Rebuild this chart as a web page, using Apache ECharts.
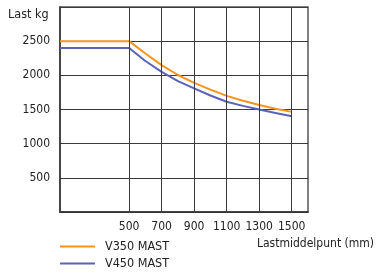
<!DOCTYPE html>
<html><head><meta charset="utf-8">
<script src="https://cdn.jsdelivr.net/npm/echarts@6/dist/echarts.min.js"></script>
<style>html,body{margin:0;padding:0;background:#fff}#c{width:377px;height:273px}</style>
</head><body><div id="c"></div>
<script>
const loadCenters = [500, 600, 700, 800, 900, 1000, 1100, 1200, 1300, 1400, 1500];
const v350 = [2500, 2320, 2150, 2005, 1890, 1790, 1700, 1628, 1565, 1512, 1465];
const v450 = [2400, 2210, 2050, 1915, 1808, 1705, 1614, 1553, 1500, 1450, 1400];
const xStart = 75, xEnd = 1600;
const xTicks = [500, 700, 900, 1100, 1300, 1500];
const yTicks = [500, 1000, 1500, 2000, 2500];
const seriesNames = ['V350 MAST', 'V450 MAST'];

const font = "'Liberation Sans Narrow', 'DejaVu Sans Condensed', 'Roboto Condensed', sans-serif";
const gridColor = '#3a3a3a';

function withFlat(values) {
  const pts = [[xStart, values[0]]];
  loadCenters.forEach((x, i) => pts.push([x, values[i]]));
  return pts;
}

function legendFor(name, top) {
  return {
    orient: 'vertical', left: 60, top: top, padding: 0,
    icon: 'rect', itemWidth: 35, itemHeight: 2,
    textStyle: {fontSize: 12.5, color: '#222', fontFamily: font, padding: [0, 0, 0, 5]},
    data: [name]
  };
}

const chart = echarts.init(document.getElementById('c'), null, {renderer: 'canvas'});
chart.setOption({
  animation: false,
  textStyle: {fontFamily: font},
  grid: {left: 60, top: 7, right: 69, bottom: 61, show: true, borderColor: '#555', borderWidth: 1.5},
  xAxis: {
    type: 'value', min: xStart, max: xEnd,
    axisLine: {show: true, lineStyle: {color: '#333', width: 1.5}},
    axisTick: {show: false},
    splitLine: {show: false},
    axisLabel: {customValues: xTicks, color: '#222', fontSize: 12, fontFamily: font, margin: 9,
      formatter: v => String(v)}
  },
  yAxis: {
    type: 'value', min: 0, max: 3000, interval: 500,
    axisLine: {show: true, lineStyle: {color: '#333', width: 1.5}},
    axisTick: {show: false},
    splitLine: {show: true, lineStyle: {color: gridColor, width: 1}},
    axisLabel: {color: '#222', fontSize: 12, fontFamily: font, margin: 10,
      formatter: v => yTicks.indexOf(v) >= 0 ? String(v) : ''}
  },
  legend: [legendFor(seriesNames[0], 240), legendFor(seriesNames[1], 257)],
  graphic: [
    {type: 'text', left: 8, top: 8, style: {text: 'Last kg', fill: '#222', font: '12.5px ' + font}},
    {type: 'text', right: 3, top: 238, style: {text: 'Lastmiddelpunt (mm)', fill: '#222', font: '12px ' + font}}
  ],
  series: [
    {
      name: seriesNames[0], type: 'line', data: withFlat(v350), smooth: false, symbol: 'none',
      lineStyle: {color: '#f7941d', width: 2, join: 'round'}, itemStyle: {color: '#f7941d'}, z: 3,
      markLine: {
        silent: true, symbol: 'none', label: {show: false},
        lineStyle: {color: gridColor, type: 'solid', width: 1},
        data: xTicks.map(x => ({xAxis: x}))
      }
    },
    {
      name: seriesNames[1], type: 'line', data: withFlat(v450), smooth: false, symbol: 'none',
      lineStyle: {color: '#5b63b8', width: 2, join: 'round'}, itemStyle: {color: '#5b63b8'}, z: 3
    }
  ]
});
</script></body></html>
